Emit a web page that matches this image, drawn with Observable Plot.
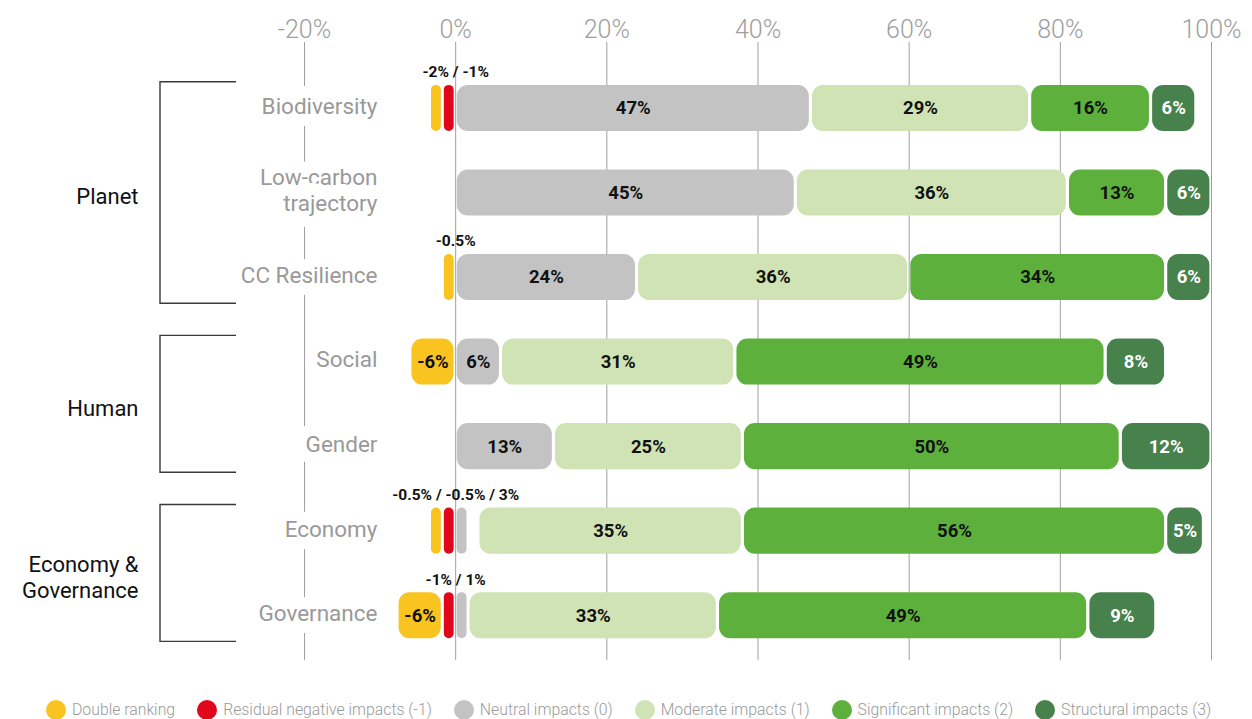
<!DOCTYPE html>
<html>
<head>
<meta charset="utf-8">
<script src="https://cdn.jsdelivr.net/npm/d3@7"></script>
<script src="https://cdn.jsdelivr.net/npm/@observablehq/plot@0.6"></script>
<style>
  html, body { margin: 0; padding: 0; background: #fff; }
  #chart svg { display: block; }
  #legend { display: flex; align-items: center; height: 29px; padding-top: 5px; padding-left: 46px; font-family: Roboto, sans-serif; font-weight: 300; font-size: 15.8px; color: #9a9a9a; white-space: nowrap; }
  #legend .item { display: flex; align-items: center; margin-right: 22px; }
  #legend .sw { width: 20px; height: 20px; border-radius: 50%; margin-right: 6px; }
</style>
</head>
<body>
<div id="chart"></div>
<div id="legend"></div>
<script>
// ---------- data ----------
const rows = ["Biodiversity", "Low-carbon\ntrajectory", "CC Resilience", "Social", "Gender", "Economy", "Governance"];
const groupOf = ["Planet", "Planet", "Planet", "Human", "Human", "Economy &\nGovernance", "Economy &\nGovernance"];
const categories = ["Double ranking", "Residual negative impacts (-1)", "Neutral impacts (0)", "Moderate impacts (1)", "Significant impacts (2)", "Structural impacts (3)"];
const colors = ["#F9C320", "#E2061A", "#C3C3C3", "#D0E3B4", "#5EB03C", "#47814C"];
const doubleRanking    = [-2, null, -0.5, -6, null, -0.5, -6];
const residualNegative = [-1, null, null, null, null, -0.5, -1];
const neutral          = [47, 45, 24, 6, 13, 3, 1];
const moderate         = [29, 36, 36, 31, 25, 35, 33];
const significant      = [16, 13, 34, 49, 50, 56, 49];
const structural       = [6, 6, 6, 8, 12, 5, 9];
const series = [doubleRanking, residualNegative, neutral, moderate, significant, structural];
const xTicks = [-20, 0, 20, 40, 60, 80, 100];
const xTickLabels = ["-20%", "0%", "20%", "40%", "60%", "80%", "100%"];

// ---------- style constants ----------
const PILL_MAX = 3;      // values up to this size are drawn as thin pills
const PILL_W = 1.7;      // pill slot width (x units)
const BAR_H = 0.545;     // bar thickness (y units)
const EXT = 0.31;        // bracket extension beyond first/last row
const fmt = v => `${v}%`;

// ---------- layout ----------
const segs = [];
const pillLabels = [];
rows.forEach((row, i) => {
  let neg = 0, pos = 0;
  for (let c = series.length - 1; c >= 0; c--) {
    const v = series[c][i];
    if (v == null || v >= 0) continue;
    const pill = Math.abs(v) <= PILL_MAX;
    const w = pill ? Math.max(-v, PILL_W) : -v;
    const x2 = neg, x1 = neg - w;
    neg = x1;
    segs.push({row: i, cat: c, v, pill, x1: pill ? x2 - PILL_W : x1, x2});
  }
  for (let c = 0; c < series.length; c++) {
    const v = series[c][i];
    if (v == null || v <= 0) continue;
    const pill = Math.abs(v) <= PILL_MAX;
    const w = pill ? Math.max(v, PILL_W) : v;
    const x1 = pos, x2 = pos + w;
    pos = x2;
    segs.push({row: i, cat: c, v, pill, x1, x2: pill ? x1 + PILL_W : x2});
  }
  const pills = segs.filter(s => s.row === i && s.pill).sort((a, b) => a.cat - b.cat);
  if (pills.length) pillLabels.push({row: i, text: pills.map(s => fmt(s.v)).join(" / ")});
});

const groups = [];
groupOf.forEach((g, i) => {
  const last = groups[groups.length - 1];
  if (last && last.name === g) last.end = i;
  else groups.push({name: g, start: i, end: i});
});

function brackets(index, scales, values, dimensions) {
  const g = d3.create("svg:g").attr("fill", "none").attr("stroke", "#3a3a3a").attr("stroke-width", 1.4);
  const xL = dimensions.marginLeft - 144, xR = dimensions.marginLeft - 68;
  for (const gr of groups) {
    const y1 = scales.y(gr.start - EXT), y2 = scales.y(gr.end + EXT);
    g.append("path").attr("d", `M${xR},${y1}H${xL}V${y2}H${xR}`);
  }
  return g.node();
}

const chart = Plot.plot({
  width: 1252,
  height: 690,
  marginLeft: 304,
  marginRight: 41,
  marginTop: 42,
  marginBottom: 30,
  x: {domain: [-20, 100], axis: null},
  y: {domain: [-0.78, 6.53], reverse: true, axis: null},
  style: {fontFamily: "Roboto, sans-serif", background: "white", color: "#111"},
  marks: [
    Plot.ruleX(xTicks, {stroke: "#a0a0a0", strokeWidth: 1}),
    Plot.text(xTicks, {x: d => d, text: (d, i) => xTickLabels[i], frameAnchor: "top", dy: -5, lineAnchor: "bottom", fontSize: 25, fontWeight: 300, fill: "#9e9e9e"}),
    Plot.text(rows.map((r, i) => ({r, i})), {y: "i", text: "r", frameAnchor: "left", dx: 73, dy: -3, textAnchor: "end", fill: "#999", fontSize: 22.5, lineHeight: 1.16, stroke: "white", strokeWidth: 24, strokeLinejoin: "round"}),
    Plot.rect(segs.filter(s => !s.pill), {x1: "x1", x2: "x2", y1: d => d.row - BAR_H / 2, y2: d => d.row + BAR_H / 2, fill: d => colors[d.cat], rx: 11, insetLeft: 1.6, insetRight: 1.6}),
    Plot.rect(segs.filter(s => s.pill), {x1: "x1", x2: "x2", y1: d => d.row - BAR_H / 2, y2: d => d.row + BAR_H / 2, fill: d => colors[d.cat], rx: 5, insetLeft: 1.5, insetRight: 1.5}),
    Plot.text(segs.filter(s => !s.pill), {x: d => (d.x1 + d.x2) / 2, y: "row", text: d => fmt(d.v), fill: d => d.cat === 5 ? "white" : "#111", fontSize: 18.5, fontWeight: "bold"}),
    Plot.text(pillLabels, {x: 0, y: "row", dy: -36, text: "text", fill: "#111", fontSize: 15.5, fontWeight: "bold"}),
    brackets,
    Plot.text(groups, {y: d => (d.start + d.end) / 2, text: "name", frameAnchor: "left", dx: -166, dy: 3, textAnchor: "end", fill: "#111", fontSize: 22, lineHeight: 1.2})
  ]
});
document.getElementById("chart").appendChild(chart);

const legend = document.getElementById("legend");
categories.forEach((c, i) => {
  const item = document.createElement("div");
  item.className = "item";
  const sw = document.createElement("div");
  sw.className = "sw";
  sw.style.background = colors[i];
  const t = document.createElement("span");
  t.textContent = c;
  item.appendChild(sw);
  item.appendChild(t);
  legend.appendChild(item);
});
</script>
</body>
</html>
